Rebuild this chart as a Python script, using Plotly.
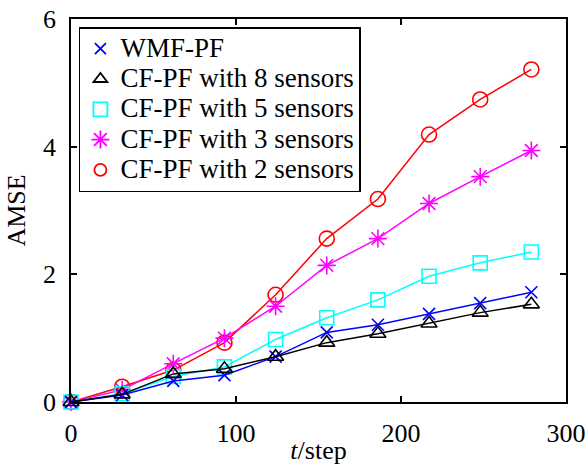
import plotly.graph_objects as go

t_steps = [0, 31, 62, 93, 124, 155, 186, 217, 248, 279]

wmf_pf = [0.0, 0.11, 0.33, 0.42, 0.71, 1.09, 1.21, 1.38, 1.55, 1.72]
cf_8 = [0.0, 0.12, 0.44, 0.52, 0.71, 0.93, 1.07, 1.23, 1.40, 1.53]
cf_5 = [0.0, 0.13, 0.40, 0.55, 0.98, 1.32, 1.60, 1.97, 2.18, 2.35]
cf_3 = [0.0, 0.19, 0.60, 1.00, 1.50, 2.14, 2.56, 3.11, 3.53, 3.94]
cf_2 = [0.0, 0.24, 0.50, 0.93, 1.68, 2.56, 3.18, 4.19, 4.74, 5.21]

series_names = ["WMF-PF", "CF-PF with 8 sensors", "CF-PF with 5 sensors",
                "CF-PF with 3 sensors", "CF-PF with 2 sensors"]
series_values = [wmf_pf, cf_8, cf_5, cf_3, cf_2]
series_colors = ["#0000ff", "#000000", "#00ffff", "#ff00ff", "#ff0000"]
series_symbols = ["x-thin-open", "triangle-up-open", "square-open",
                  "asterisk-open", "circle-open"]
series_sizes = [12, 14, 14, 15, 15]
legend_sizes = [11, 12, 14, 15, 12]

x_ticks = [0, 100, 200, 300]
y_ticks = [0, 2, 4, 6]

FONT = "Liberation Serif"

fig = go.Figure()

draw_order = [4, 3, 2, 0, 1]
for i in draw_order:
    fig.add_trace(go.Scatter(
        x=t_steps, y=series_values[i], mode="lines+markers",
        line=dict(color=series_colors[i], width=1.5),
        marker=dict(symbol=series_symbols[i], size=series_sizes[i],
                    color=series_colors[i],
                    line=dict(color=series_colors[i], width=1.6)),
        showlegend=False, cliponaxis=False,
    ))

for i in range(5):
    fig.add_trace(go.Scatter(
        x=[None], y=[None], mode="markers",
        name='<span style="font-size:27px">' + series_names[i] + '</span>',
        marker=dict(symbol=series_symbols[i], size=legend_sizes[i],
                    color=series_colors[i],
                    line=dict(color=series_colors[i], width=1.8)),
        showlegend=True,
    ))

axis_common = dict(
    showline=True, linecolor="black", linewidth=1.5, mirror="ticks",
    ticks="inside", ticklen=6, tickwidth=1.5, tickcolor="black",
    showgrid=False, zeroline=False, automargin=False,
    ticklabeloverflow="allow",
    tickfont=dict(family=FONT, size=26, color="black"),
)

fig.update_xaxes(range=[0, 300], tickvals=x_ticks, ticklabelstandoff=7,
                 title=dict(text="<i>t</i>/step", font=dict(family=FONT, size=26, color="black"),
                            standoff=11),
                 **axis_common)
fig.update_yaxes(range=[0, 6], tickvals=y_ticks, ticklabelstandoff=8,
                 title=dict(text="AMSE", font=dict(family=FONT, size=26, color="black"),
                            standoff=10),
                 **axis_common)

fig.update_layout(
    width=588, height=465,
    margin=dict(l=71, r=22, t=19, b=63),
    plot_bgcolor="white", paper_bgcolor="white",
    font=dict(family=FONT, size=26, color="black"),
    legend=dict(x=0.016, y=0.979, xanchor="left", yanchor="top",
                bgcolor="white", bordercolor="black", borderwidth=1.5,
                font=dict(family=FONT, size=21, color="black"),
                tracegroupgap=0, itemwidth=30),
)

fig.write_html("out.html", config={"displayModeBar": False},
               post_script="document.body.style.margin='0';document.body.style.overflow='hidden';")
